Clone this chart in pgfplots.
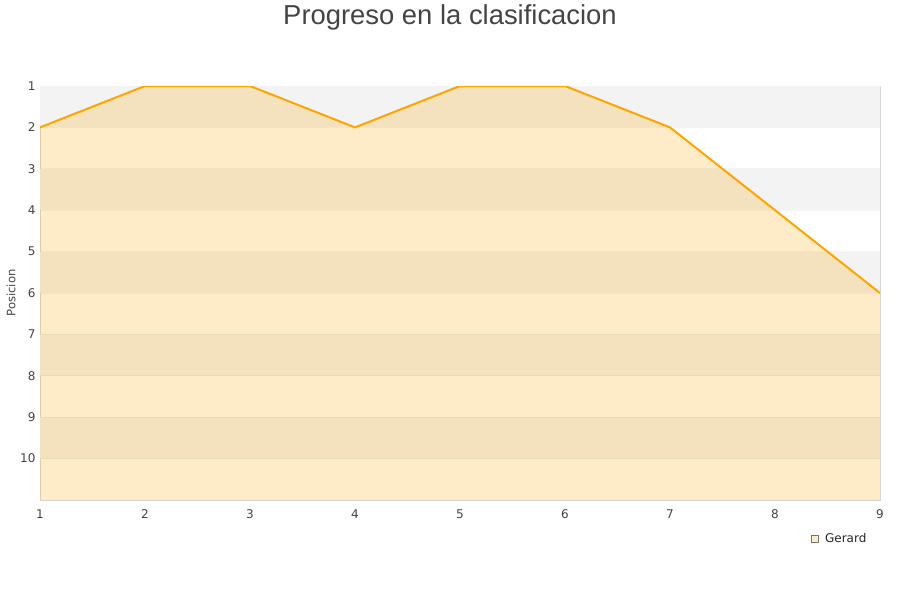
\documentclass[border=0pt]{standalone}
\usepackage{fontspec}
\setmainfont{DejaVu Sans}
\newfontfamily\titlefont{Liberation Sans}
\usepackage{pgfplots}
\pgfplotsset{compat=1.18}

\definecolor{lineorange}{RGB}{255,165,0}
\definecolor{fillorange}{RGB}{250,165,0}
\definecolor{legendfill}{RGB}{253,236,201}
\definecolor{bandgray}{RGB}{243,243,243}
\definecolor{framegray}{RGB}{216,216,216}
\definecolor{textgray}{RGB}{68,68,68}

\begin{document}
\begin{tikzpicture}[x=1pt,y=1pt]
\path[use as bounding box] (0,0) rectangle (900,600);
\node[font=\titlefont\fontsize{27.4}{30}\selectfont, text=textgray, anchor=center] at (450,583) {Progreso en la clasificacion};
\node[font=\fontsize{11.6}{13}\selectfont, text=textgray, rotate=90] at (11,307) {Posicion};
\begin{axis}[
    at={(40pt,100pt)}, anchor=south west,
    scale only axis,
    width=840pt, height=414pt,
    xmin=1, xmax=9,
    ymin=1, ymax=11,
    y dir=reverse,
    xtick={1,...,9},
    ytick={1,...,10},
    tick style={draw=none},
    axis line style={draw=framegray},
    ticklabel style={font=\fontsize{12}{14}\selectfont, text=textgray},
    /pgf/number format/assume math mode=true,
    yticklabel style={xshift=-1pt},
    xticklabel style={yshift=-6pt},
    legend style={draw=none, fill=none, at={(axis description cs:0.99,-0.07)}, anchor=north east,
        font=\fontsize{12}{14}\selectfont, text=black!85},
    legend image code/.code={\draw[draw=black!55, fill=legendfill, line width=0.6pt] (0pt,-3.5pt) rectangle (7pt,3.5pt);
        \path (11pt,0pt);},
    clip=true,
]
% background bands
\fill[bandgray] (axis cs:1,1) rectangle (axis cs:9,2);
\fill[bandgray] (axis cs:1,3) rectangle (axis cs:9,4);
\fill[bandgray] (axis cs:1,5) rectangle (axis cs:9,6);
\fill[bandgray] (axis cs:1,7) rectangle (axis cs:9,8);
\fill[bandgray] (axis cs:1,9) rectangle (axis cs:9,10);
\foreach \k in {2,...,10} {
  \edef\temp{\noexpand\draw[black, opacity=0.04, line width=0.8pt] (axis cs:1,\k) -- (axis cs:9,\k);}
  \temp
}
\addplot[fill=fillorange, fill opacity=0.22, draw=none, forget plot]
coordinates {
    (1,2) (2,1) (3,1) (4,2) (5,1) (6,1) (7,2) (8,4) (9,6) (9,11) (1,11)
} -- cycle;
\addplot[color=lineorange, line width=2pt, line join=round]
coordinates {
    (1,2) (2,1) (3,1) (4,2) (5,1) (6,1) (7,2) (8,4) (9,6)
};
\addlegendentry{Gerard}
\end{axis}
\end{tikzpicture}
\end{document}
